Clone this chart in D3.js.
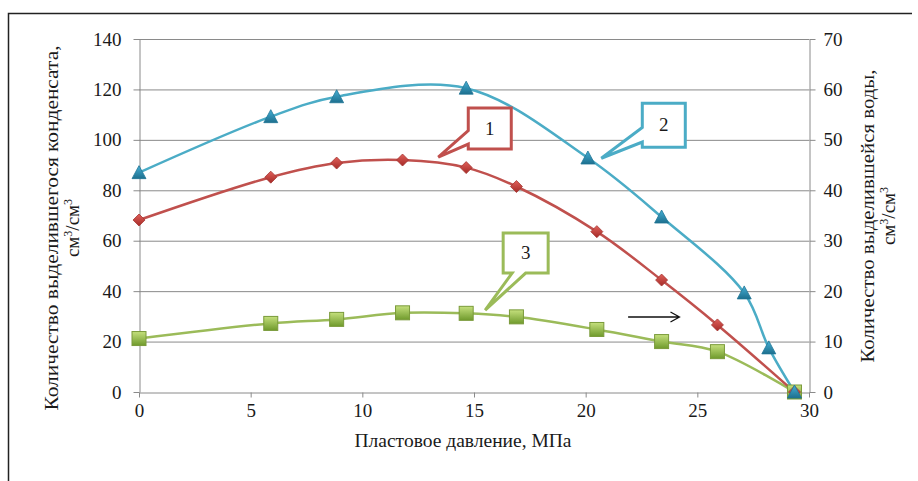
<!DOCTYPE html>
<html>
<head>
<meta charset="utf-8">
<script src="https://cdn.jsdelivr.net/npm/d3@7"></script>
<style>
  body { margin: 0; background: #fff; }
</style>
</head>
<body>
<svg id="chart" width="918" height="481"></svg>
<script>
// Pressure values (MPa) and the three measured curves
const pressureA = [0, 5.9, 8.85, 11.8, 14.65, 16.9, 20.5, 23.4, 25.9, 29.35];
const condensate1 = [68.2, 85.2, 90.8, 92, 89, 81.5, 63.6, 44.4, 26.6, 0];      // curve 1, left axis
const pressureB = [0, 5.9, 8.85, 14.65, 20.1, 23.4, 27.1, 28.2, 29.35];
const condensate2 = [87, 109.2, 117.1, 120.5, 92.8, 69.4, 39.3, 17.5, 0];        // curve 2, left axis
const water3 = [10.6, 13.6, 14.4, 15.7, 15.6, 14.9, 12.4, 10, 8, 0];             // curve 3, right axis

const xTicks = [0, 5, 10, 15, 20, 25, 30];
const leftTicks = [0, 20, 40, 60, 80, 100, 120, 140];
const rightTicks = [0, 10, 20, 30, 40, 50, 60, 70];

const xTitle = "Пластовое давление, МПа";
const leftTitle = "Количество выделившегося конденсата,";
const rightTitle = "Количество выделившейся воды,";

const colors = { red: "#c0504d", blue: "#4bacc6", green: "#9bbb59" };
const serif = "'Liberation Serif'";
const textColor = "#1a1a1a";

const svg = d3.select("#chart");
const plot = { left: 139, right: 809, top: 39, bottom: 392 };

const x = d3.scaleLinear().domain([0, 30]).range([plot.left, plot.right]);
const yL = d3.scaleLinear().domain([0, 140]).range([plot.bottom, plot.top]);
const yR = d3.scaleLinear().domain([0, 70]).range([plot.bottom, plot.top]);

// Outer frame (top and left edges)
svg.append("path").attr("d", "M8.5,481 V13.5 H912")
  .attr("fill", "none").attr("stroke", "#222").attr("stroke-width", 1.5);

// Gradients for the markers
const defs = svg.append("defs");
function grad(id, c1, c2) {
  const g = defs.append("linearGradient").attr("id", id)
    .attr("x1", 0).attr("y1", 0).attr("x2", 0).attr("y2", 1);
  g.append("stop").attr("offset", "0%").attr("stop-color", c1);
  g.append("stop").attr("offset", "100%").attr("stop-color", c2);
}
grad("gRed", "#e0605a", "#a52a27");
grad("gBlue", "#45b0d6", "#1d6f8e");
grad("gGreen", "#c5e07d", "#6f9a2c");

// Horizontal gridlines
svg.append("g").selectAll("line").data(leftTicks.slice(1)).join("line")
  .attr("x1", plot.left).attr("x2", plot.right)
  .attr("y1", d => yL(d) + 0.5).attr("y2", d => yL(d) + 0.5)
  .attr("stroke", "#8a8a8a").attr("stroke-width", 1);

// Axes
const axisColor = "#8a8a8a";
function styleAxis(g) {
  g.attr("font-family", null).attr("font-size", null);
  g.select(".domain").attr("stroke", axisColor);
  g.selectAll(".tick line").attr("stroke", axisColor);
  g.selectAll(".tick text").style("font-family", serif).style("font-size", "19px").attr("fill", textColor);
}
svg.append("g").attr("transform", `translate(0,${plot.bottom + 0.5})`)
  .call(d3.axisBottom(x).tickValues(xTicks).tickSize(5).tickSizeOuter(0).tickPadding(6))
  .call(styleAxis);
svg.append("g").attr("transform", `translate(${plot.left + 0.5},0)`)
  .call(d3.axisLeft(yL).tickValues(leftTicks).tickSize(6).tickSizeOuter(0).tickPadding(12))
  .call(styleAxis);
svg.append("g").attr("transform", `translate(${plot.right + 0.5},0)`)
  .call(d3.axisRight(yR).tickValues(rightTicks).tickSize(6).tickSizeOuter(0).tickPadding(8))
  .call(styleAxis);

// Axis titles
svg.append("text").attr("x", 463).attr("y", 447).attr("text-anchor", "middle")
  .attr("textLength", 217).attr("lengthAdjust", "spacingAndGlyphs")
  .style("font-family", serif).style("font-size", "19px").attr("fill", textColor).text(xTitle);

function rotatedTitle(cx, cy, line1, len1) {
  const g = svg.append("g").attr("transform", `translate(${cx},${cy}) rotate(-90)`);
  g.append("text").attr("x", 0).attr("y", 0).attr("text-anchor", "middle")
    .attr("textLength", len1).attr("lengthAdjust", "spacingAndGlyphs")
    .style("font-family", serif).style("font-size", "19px").attr("fill", textColor).text(line1);
  const t = g.append("text").attr("x", 0).attr("y", 21).attr("text-anchor", "middle")
    .style("font-family", serif).style("font-size", "19px").attr("fill", textColor);
  t.append("tspan").text("см");
  t.append("tspan").attr("dy", -7).style("font-size", "12px").text("3");
  t.append("tspan").attr("dy", 7).text("/см");
  t.append("tspan").attr("dy", -7).style("font-size", "12px").text("3");
}
rotatedTitle(58, 228, leftTitle, 365);
rotatedTitle(874, 216, rightTitle, 293);

// Curves
const line = (xs, ys, yScale, curve) => d3.line()
  .x((d, i) => x(xs[i])).y(d => yScale(d))
  .curve(curve)(ys);

svg.append("path").attr("d", line(pressureA, water3, yR, d3.curveCatmullRom.alpha(0.5)))
  .attr("fill", "none").attr("stroke", colors.green).attr("stroke-width", 2.5);
svg.append("path").attr("d", line(pressureA, condensate1, yL, d3.curveCatmullRom.alpha(0.5)))
  .attr("fill", "none").attr("stroke", colors.red).attr("stroke-width", 2.5);
svg.append("path").attr("d", line(pressureB, condensate2, yL, d3.curveCatmullRom.alpha(0.5)))
  .attr("fill", "none").attr("stroke", colors.blue).attr("stroke-width", 2.5);

// Markers
svg.append("g").selectAll("rect").data(water3).join("rect")
  .attr("x", (d, i) => x(pressureA[i]) - 7).attr("y", d => yR(d) - 7)
  .attr("width", 14).attr("height", 14)
  .attr("fill", "url(#gGreen)").attr("stroke", "#7a9a3a").attr("stroke-width", 1);

svg.append("g").selectAll("path").data(condensate1).join("path")
  .attr("transform", (d, i) => `translate(${x(pressureA[i])},${yL(d)})`)
  .attr("d", "M0,-6 L6,0 L0,6 L-6,0 Z")
  .attr("fill", "url(#gRed)").attr("stroke", "#a33330").attr("stroke-width", 0.8);

svg.append("g").selectAll("path").data(condensate2).join("path")
  .attr("transform", (d, i) => `translate(${x(pressureB[i])},${yL(d)})`)
  .attr("d", "M0,-7 L7,6 L-7,6 Z")
  .attr("fill", "url(#gBlue)").attr("stroke", "#1f7596").attr("stroke-width", 0.8);

// Numbered callouts; tip given in data units, box in pixels relative to the tip
function callout(tipX, tipY, yScale, dx, dy, w, h, tail, color, label) {
  const tx = x(tipX), ty = yScale(tipY);
  const bx = tx + dx, by = ty + dy;
  let d;
  if (tail === "left") {
    const a = by + h * 0.55, b = by + h * 0.88;
    d = `M${bx},${by} H${bx + w} V${by + h} H${bx} V${b} L${tx},${ty} L${bx},${a} Z`;
  } else {
    const a = bx + w * 0.2, b = bx + w * 0.5;
    d = `M${bx},${by} H${bx + w} V${by + h} H${b} L${tx},${ty} L${a},${by + h} H${bx} Z`;
  }
  svg.append("path").attr("d", d).attr("fill", "#fff")
    .attr("stroke", color).attr("stroke-width", 3).attr("stroke-linejoin", "miter");
  svg.append("text").attr("x", bx + w / 2).attr("y", by + h / 2 + 6)
    .attr("text-anchor", "middle").style("font-family", serif).style("font-size", "19px")
    .attr("fill", textColor).text(label);
}
callout(13.4, 93.2, yL, 30, -49, 43, 41, "left", colors.red, "1");
callout(20.7, 92.7, yL, 41, -55, 43, 44, "left", colors.blue, "2");
callout(15.5, 32.5, yL, 18, -77, 45, 40, "bottom", colors.green, "3");

// Arrow pointing to the right-hand axis
const ay = yL(29.75);
svg.append("path")
  .attr("d", `M${x(21.9)},${ay} H${x(24.2)} M${x(24.2) - 9},${ay - 5} L${x(24.2)},${ay} L${x(24.2) - 9},${ay + 5}`)
  .attr("fill", "none").attr("stroke", "#111").attr("stroke-width", 1.3);
</script>
</body>
</html>
